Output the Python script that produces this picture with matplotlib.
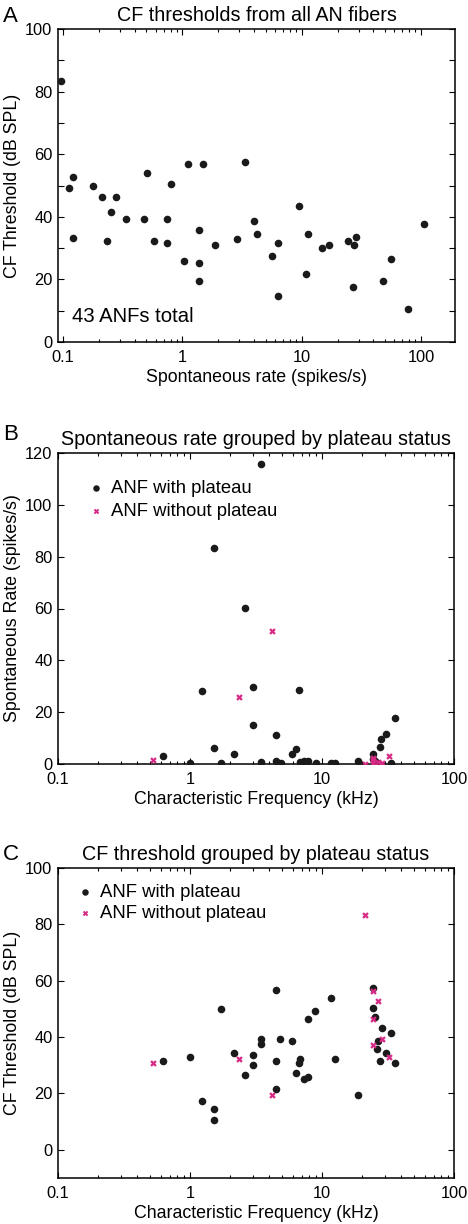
import matplotlib
matplotlib.use('Agg')
import matplotlib.pyplot as plt
from matplotlib.ticker import MultipleLocator, LogLocator, FixedLocator, FixedFormatter

plt.rcParams['font.family'] = ['Liberation Sans', 'DejaVu Sans']

# Panel A: spontaneous rate vs CF threshold, all fibers
sr_all = [0.0957, 0.112, 0.121, 0.18, 0.211, 0.276, 0.51, 0.80, 1.11, 1.49, 3.36,
          0.253, 0.339, 0.476, 0.74, 0.122, 0.234, 0.58, 0.74, 1.04, 1.39, 1.39,
          1.37, 1.87, 2.89, 4.03, 4.2, 9.6, 6.3, 5.6, 6.3, 11.3, 10.9, 14.7, 17.0,
          24.5, 27.3, 28.6, 26.8, 48.5, 56.4, 78.5, 106]
thr_all = [83.4, 49.1, 52.6, 49.8, 46.4, 46.4, 54.0, 50.5, 56.8, 56.8, 57.5,
           41.4, 39.3, 39.3, 39.3, 33.1, 32.4, 32.4, 31.6, 26.0, 35.8, 25.3,
           19.6, 30.9, 33.0, 38.7, 34.4, 43.5, 31.6, 27.4, 14.8, 34.4, 21.7, 30.1, 30.9,
           32.3, 30.9, 33.6, 17.6, 19.6, 26.6, 10.5, 37.8]

# Panel B: CF vs spontaneous rate
cf_b_plat = [3.46, 1.53, 2.62, 1.24, 3.0, 6.67, 3.0, 4.47, 1.53, 2.16, 0.62, 1.0,
             1.73, 3.46, 4.47, 4.87, 5.88, 6.37, 6.8, 7.3, 7.8, 8.94, 11.6, 12.6,
             18.8, 24.5, 27.4, 28.0, 30.7, 35.6, 33.6, 25.0, 26.0, 24.5]
sr_b_plat = [115.8, 83.2, 60.1, 28.1, 29.8, 28.6, 15.1, 11.1, 6.3, 4.0, 3.1, 0.3,
             0.2, 0.8, 1.2, 0.5, 3.7, 5.7, 0.6, 1.2, 1.0, 0.2, 0.3, 0.2,
             1.3, 3.8, 6.5, 9.8, 11.6, 17.8, 0.2, 1.0, 0.5, 2.0]
cf_b_noplat = [4.21, 2.34, 0.52, 21.0, 24.5, 24.5, 24.5, 26.4, 28.3, 32.3]
sr_b_noplat = [51.4, 25.7, 1.5, 0.0, 0.5, 1.5, 2.5, 0.8, 0.3, 3.0]

# Panel C: CF vs CF threshold
cf_c_plat = [4.47, 11.6, 24.5, 1.73, 8.9, 7.8, 24.5, 25.0, 28.3, 33.4, 26.4, 26.0,
             30.5, 27.4, 35.8, 18.8, 12.6, 3.46, 3.46, 4.8, 5.9, 4.47, 4.47, 6.8,
             6.7, 6.37, 7.25, 7.8, 3.0, 3.0, 2.16, 2.62, 1.24, 1.53, 1.53, 1.0, 0.62]
thr_c_plat = [56.8, 54.0, 57.5, 49.8, 49.1, 46.4, 50.4, 47.0, 43.3, 41.3, 38.5, 35.7,
              34.4, 31.5, 30.7, 19.5, 32.2, 39.3, 37.7, 39.2, 38.5, 31.5, 21.7, 32.3,
              30.7, 27.3, 25.3, 25.9, 33.6, 30.1, 34.2, 26.5, 17.5, 14.6, 10.5, 32.9, 31.5]
cf_c_noplat = [21.0, 24.5, 26.4, 24.5, 28.3, 24.5, 32.3, 4.21, 2.34, 0.52]
thr_c_noplat = [83.5, 56.3, 52.8, 46.3, 39.2, 37.1, 32.9, 19.5, 32.2, 30.7]

W, H = 468, 1224
DOT = '#1a1a1a'
PINK = '#d62a85'

fig = plt.figure(figsize=(W / 100, H / 100), dpi=100)


def box(l, r, t, b):
    return [l / W, 1 - b / H, (r - l) / W, (b - t) / H]


def style(ax):
    ax.set_xscale('log')
    ax.tick_params(which='both', direction='in', top=True, right=True,
                   labelsize=11.8, width=0.8)
    ax.tick_params(axis='x', which='both', pad=6)
    ax.tick_params(axis='y', which='both', pad=4)
    ax.tick_params(which='major', length=4)
    ax.tick_params(which='minor', length=2.5)
    ax.xaxis.set_major_locator(FixedLocator([0.1, 1, 10, 100]))
    ax.xaxis.set_major_formatter(FixedFormatter(['0.1', '1', '10', '100']))
    ax.xaxis.set_minor_locator(LogLocator(base=10, subs=range(2, 10)))
    for s in ax.spines.values():
        s.set_linewidth(1.1)


# ---- A
axA = fig.add_axes(box(58, 455, 29, 342))
axA.scatter(sr_all, thr_all, s=30, color=DOT, linewidths=0, zorder=3)
style(axA)
axA.set_xlim(0.091, 193)
axA.set_ylim(0, 100)
axA.yaxis.set_major_locator(MultipleLocator(20))
axA.yaxis.set_minor_locator(MultipleLocator(10))
axA.tick_params(axis='y', which='minor', length=4)
axA.set_title('CF thresholds from all AN fibers', fontsize=14.2, pad=6)
axA.set_xlabel('Spontaneous rate (spikes/s)', fontsize=12.8, labelpad=3)
axA.set_ylabel('CF Threshold (dB SPL)', fontsize=12.8, labelpad=3)
axA.text(0.035, 0.05, '43 ANFs total', transform=axA.transAxes, fontsize=14.6,
         va='bottom', ha='left')
fig.text(3 / W, 1 - 17 / H, 'A', fontsize=16, va='center', ha='left')

leg_kw = dict(loc='upper left', frameon=False, fontsize=13.3, handlelength=0.8,
              handletextpad=0.4, markerscale=0.85, borderaxespad=0)

# ---- B
axB = fig.add_axes(box(58, 454, 453, 764))
axB.scatter(cf_b_plat, sr_b_plat, s=30, color=DOT, linewidths=0, zorder=3,
            label='ANF with plateau')
axB.scatter(cf_b_noplat, sr_b_noplat, s=22, marker='X', color=PINK, linewidths=0,
            zorder=4, label='ANF without plateau')
style(axB)
axB.set_xlim(0.1, 100)
axB.set_ylim(0, 120)
axB.yaxis.set_major_locator(MultipleLocator(20))
axB.set_title('Spontaneous rate grouped by plateau status', fontsize=14.2, pad=6)
axB.set_xlabel('Characteristic Frequency (kHz)', fontsize=12.8, labelpad=3)
axB.set_ylabel('Spontaneous Rate (spikes/s)', fontsize=12.8, labelpad=3)
axB.legend(bbox_to_anchor=(0.058, 0.937), labelspacing=0.3, **leg_kw)
fig.text(3 / W, 1 - 434 / H, 'B', fontsize=16, va='center', ha='left')

# ---- C
axC = fig.add_axes(box(58, 454, 868, 1178))
axC.scatter(cf_c_plat, thr_c_plat, s=30, color=DOT, linewidths=0, zorder=3,
            label='ANF with plateau')
axC.scatter(cf_c_noplat, thr_c_noplat, s=22, marker='X', color=PINK, linewidths=0,
            zorder=4, label='ANF without plateau')
style(axC)
axC.set_xlim(0.1, 100)
axC.set_ylim(-10, 100)
axC.yaxis.set_major_locator(FixedLocator([0, 20, 40, 60, 80, 100]))
axC.set_title('CF threshold grouped by plateau status', fontsize=14.2, pad=6)
axC.set_xlabel('Characteristic Frequency (kHz)', fontsize=12.8, labelpad=3)
axC.set_ylabel('CF Threshold (dB SPL)', fontsize=12.8, labelpad=3)
axC.legend(bbox_to_anchor=(0.031, 0.972), labelspacing=0.22, **leg_kw)
fig.text(3 / W, 1 - 854 / H, 'C', fontsize=16, va='center', ha='left')

fig.savefig('out.png', dpi=100)
